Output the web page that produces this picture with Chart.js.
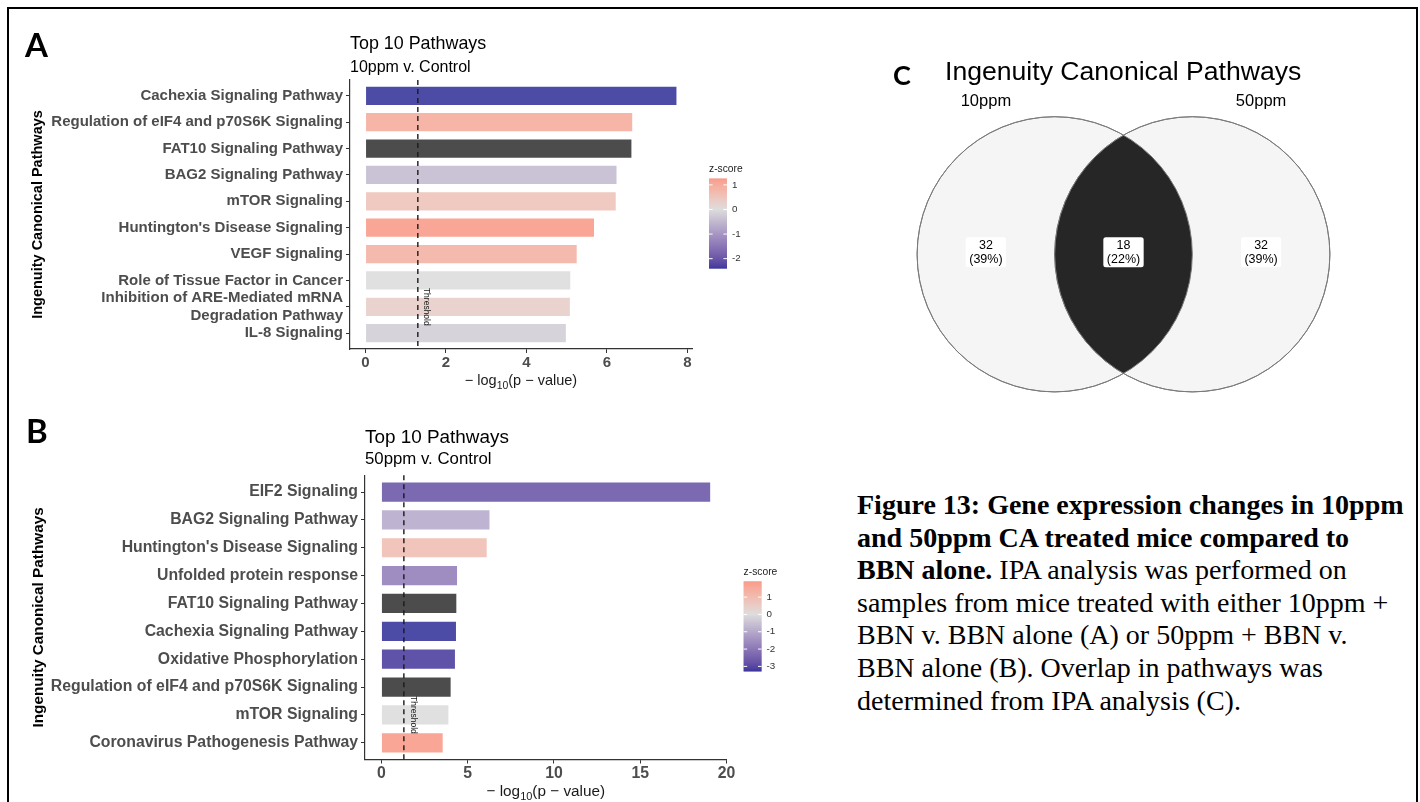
<!DOCTYPE html>
<html>
<head>
<meta charset="utf-8">
<script src="https://cdn.jsdelivr.net/npm/chart.js@4.4.1/dist/chart.umd.min.js"></script>
<style>
  html, body { margin: 0; padding: 0; background: #fff; }
  body { width: 1420px; height: 802px; position: relative; overflow: hidden; font-family: "Liberation Sans", Arial, sans-serif; }
  .frame { position: absolute; left: 7px; top: 7px; width: 1411px; height: 900px; border: 2px solid #000; box-sizing: border-box; }
  canvas { position: absolute; }
  .letter { position: absolute; font-family: Lato, "Open Sans", sans-serif; font-weight: 700; color: #000; line-height: 1; white-space: nowrap; }
  .vtitle { position: absolute; left: 945px; top: 58px; font-size: 26.6px; line-height: 1; color: #000; white-space: nowrap; }
  .caption { position: absolute; left: 857px; top: 489px; font-family: "Liberation Serif", "Times New Roman", serif; font-size: 28px; line-height: 32.6px; color: #000; white-space: nowrap; }
</style>
</head>
<body>
<div class="frame"></div>
<canvas id="chartA" width="830" height="400" style="left:0;top:0;"></canvas>
<canvas id="chartB" width="830" height="402" style="left:0;top:400px;"></canvas>
<canvas id="venn" width="480" height="370" style="left:880px;top:40px;"></canvas>
<div class="letter" style="left:25px;top:28px;font-size:33px;">A</div>
<div class="letter" style="left:26px;top:414px;font-size:33px;">B</div>
<div class="letter" style="left:893px;top:61px;font-size:27px;">C</div>
<div class="vtitle">Ingenuity Canonical Pathways</div>
<div class="caption"><b>Figure 13: Gene expression changes in 10ppm<br>and 50ppm CA treated mice compared to<br>BBN alone.</b> IPA analysis was performed on<br>samples from mice treated with either 10ppm +<br>BBN v. BBN alone (A) or 50ppm + BBN v.<br>BBN alone (B). Overlap in pathways was<br>determined from IPA analysis (C).</div>

<script>
// ---- data: 10ppm v. Control ----
const pathwaysA = [
  'Cachexia Signaling Pathway',
  'Regulation of eIF4 and p70S6K Signaling',
  'FAT10 Signaling Pathway',
  'BAG2 Signaling Pathway',
  'mTOR Signaling',
  "Huntington's Disease Signaling",
  'VEGF Signaling',
  'Role of Tissue Factor in Cancer',
  ['Inhibition of ARE-Mediated mRNA', 'Degradation Pathway'],
  'IL-8 Signaling'
];
const logPA = [7.73, 6.63, 6.61, 6.24, 6.22, 5.68, 5.25, 5.09, 5.08, 4.98];
const zScoreA = [-2.40, 0.95, null, -0.46, 0.52, 1.26, 0.85, 0, 0.30, -0.20];
const xTicksA = [0, 2, 4, 6, 8];
const zTicksA = [1, 0, -1, -2];

// ---- data: 50ppm v. Control ----
const pathwaysB = [
  'EIF2 Signaling',
  'BAG2 Signaling Pathway',
  "Huntington's Disease Signaling",
  'Unfolded protein response',
  'FAT10 Signaling Pathway',
  'Cachexia Signaling Pathway',
  'Oxidative Phosphorylation',
  'Regulation of eIF4 and p70S6K Signaling',
  'mTOR Signaling',
  'Coronavirus Pathogenesis Pathway'
];
const logPB = [19.05, 6.26, 6.10, 4.38, 4.34, 4.32, 4.26, 4.01, 3.88, 3.55];
const zScoreB = [-2.69, -0.97, 0.92, -1.83, null, -3.29, -3.15, null, 0, 1.91];
const xTicksB = [0, 5, 10, 15, 20];
const zTicksB = [1, 0, -1, -2, -3];

// significance cut-off, -log10(0.05)
const thresholdLogP = 1.3;

// ---- Venn: pathways shared between the two doses ----
const vennSets = ['10ppm', '50ppm'];
const vennCounts = [32, 18, 32]; // 10ppm only, both, 50ppm only

Chart.defaults.font.family = '"Liberation Sans", Arial, sans-serif';

// ---- colour scale (navy - lightgrey - salmon, interpolated in CIELAB) ----
function hexToRgb(h) { return [1, 3, 5].map(i => parseInt(h.slice(i, i + 2), 16)); }
function toLin(c) { c /= 255; return c <= 0.04045 ? c / 12.92 : Math.pow((c + 0.055) / 1.055, 2.4); }
function fromLin(v) { v = v <= 0.0031308 ? 12.92 * v : 1.055 * Math.pow(v, 1 / 2.4) - 0.055; return Math.round(Math.min(1, Math.max(0, v)) * 255); }
const WX = 0.95047, WZ = 1.08883;
function fLab(t) { return t > 0.008856 ? Math.cbrt(t) : 7.787 * t + 16 / 116; }
function fInv(t) { const t3 = t * t * t; return t3 > 0.008856 ? t3 : (t - 16 / 116) / 7.787; }
function rgbToLab(rgb) {
  const [r, g, b] = rgb.map(toLin);
  const X = (0.4124 * r + 0.3576 * g + 0.1805 * b) / WX;
  const Y = 0.2126 * r + 0.7152 * g + 0.0722 * b;
  const Z = (0.0193 * r + 0.1192 * g + 0.9505 * b) / WZ;
  const fx = fLab(X), fy = fLab(Y), fz = fLab(Z);
  return [116 * fy - 16, 500 * (fx - fy), 200 * (fy - fz)];
}
function labToRgb([L, a, b]) {
  const fy = (L + 16) / 116, fx = fy + a / 500, fz = fy - b / 200;
  const X = fInv(fx) * WX, Y = fInv(fy), Z = fInv(fz) * WZ;
  return [
    fromLin(3.2406 * X - 1.5372 * Y - 0.4986 * Z),
    fromLin(-0.9689 * X + 1.8758 * Y + 0.0415 * Z),
    fromLin(0.0557 * X - 0.2040 * Y + 1.0570 * Z)
  ];
}
const LAB_LOW = rgbToLab(hexToRgb('#000080'));
const LAB_MID = rgbToLab(hexToRgb('#D3D3D3'));
const LAB_HIGH = rgbToLab(hexToRgb('#F8806A'));
function zColor(z, zmin, zmax) {
  const s = z < 0 ? Math.min(1, z / zmin) : Math.min(1, z / zmax);
  const end = z < 0 ? LAB_LOW : LAB_HIGH;
  return labToRgb(LAB_MID.map((m, i) => m + (end[i] - m) * s));
}
const rgba = (c, a) => `rgba(${c[0]},${c[1]},${c[2]},${a})`;

const FONT = s => `${s}px "Liberation Sans", Arial, sans-serif`;

// -log10(p-value) axis title with a subscript
function drawLogTitle(ctx, cx, cy, size) {
  const p1 = '\u2212 log', p2 = '10', p3 = '(p \u2212 value)';
  const sub = size * 0.72;
  ctx.font = FONT(size);
  const w1 = ctx.measureText(p1).width, w3 = ctx.measureText(p3).width;
  ctx.font = FONT(sub);
  const w2 = ctx.measureText(p2).width;
  let x = cx - (w1 + w2 + w3) / 2;
  const base = cy + size * 0.36;
  ctx.fillStyle = '#1a1a1a';
  ctx.textAlign = 'left';
  ctx.textBaseline = 'alphabetic';
  ctx.font = FONT(size); ctx.fillText(p1, x, base); x += w1;
  ctx.font = FONT(sub); ctx.fillText(p2, x, base + size * 0.28); x += w2;
  ctx.font = FONT(size); ctx.fillText(p3, x, base);
}

function drawColorbar(ctx, left, top, w, h, zmin, zmax, ticks, fs) {
  for (let i = 0; i < h; i++) {
    const z = zmax - (i + 0.5) / h * (zmax - zmin);
    ctx.fillStyle = rgba(zColor(z, zmin, zmax), 1);
    ctx.fillRect(left, top + i, w, 1.05);
  }
  ctx.strokeStyle = '#ffffff';
  ctx.lineWidth = 1;
  ctx.fillStyle = '#333';
  ctx.font = FONT(fs);
  ctx.textAlign = 'left';
  ctx.textBaseline = 'middle';
  ticks.forEach(t => {
    const y = top + (zmax - t) / (zmax - zmin) * h;
    ctx.beginPath();
    ctx.moveTo(left, y); ctx.lineTo(left + w * 0.2, y);
    ctx.moveTo(left + w * 0.8, y); ctx.lineTo(left + w, y);
    ctx.stroke();
    ctx.fillText(String(t), left + w + 5, y);
  });
  ctx.fillStyle = '#1a1a1a';
  ctx.font = FONT(fs * 1.05);
  ctx.fillText('z-score', left, top - 9);
}

// titles, threshold line, axis title and colour bar of a pathway panel
const panelDecor = {
  id: 'panelDecor',
  afterDatasetsDraw(chart, args, o) {
    const { ctx, chartArea: a } = chart;
    const x = chart.scales.x, y = chart.scales.y;
    const tx = x.getPixelForValue(o.threshold);
    ctx.save();
    ctx.strokeStyle = '#1a1a1a';
    ctx.lineWidth = 1.4;
    ctx.setLineDash([5, 4]);
    ctx.beginPath();
    ctx.moveTo(tx, a.top); ctx.lineTo(tx, a.bottom);
    ctx.stroke();
    ctx.setLineDash([]);
    ctx.translate(tx + 9, y.getPixelForValue(o.labelAt));
    ctx.rotate(Math.PI / 2);
    ctx.font = FONT(8.5);
    ctx.fillStyle = '#1a1a1a';
    ctx.textAlign = 'center';
    ctx.textBaseline = 'middle';
    ctx.fillText('Threshold', 0, 0);
    ctx.restore();
  },
  afterDraw(chart, args, o) {
    const { ctx, chartArea: a } = chart;
    ctx.save();
    ctx.fillStyle = '#000';
    ctx.textAlign = 'left';
    ctx.textBaseline = 'alphabetic';
    ctx.font = FONT(o.titleSize);
    ctx.fillText(o.title, a.left, a.top - o.titleDy);
    ctx.font = FONT(o.subSize);
    ctx.fillText(o.subtitle, a.left, a.top - o.subDy);
    drawLogTitle(ctx, (a.left + a.right) / 2, a.bottom + 31, o.xTitleSize);
    const cy = (a.top + a.bottom) / 2;
    drawColorbar(ctx, a.right + 17, cy - 36, 18, 90, o.zmin, o.zmax, o.zTicks, 9.8);
    ctx.restore();
  }
};

function pathwayChart(id, g, labels, values, zs, xTicks, zTicks, text) {
  const known = zs.filter(v => v !== null);
  const zmin = Math.min(...known), zmax = Math.max(...known);
  const vmax = Math.max(...values);
  const colors = zs.map(z => z === null ? 'rgba(0,0,0,0.7)' : rgba(zColor(z, zmin, zmax), 0.7));
  const axisLine = { display: true, color: '#333', width: 1.2 };
  const tickGrid = { offset: false, drawOnChartArea: false, drawTicks: true, tickLength: 4, tickColor: '#333', tickWidth: 1 };
  return new Chart(document.getElementById(id), {
    type: 'bar',
    data: {
      datasets: [{
        data: values.map((v, i) => ({ x: v, y: i })),
        backgroundColor: colors,
        borderWidth: 0,
        barPercentage: 0.69,
        categoryPercentage: 1
      }]
    },
    options: {
      indexAxis: 'y',
      responsive: false,
      animation: false,
      devicePixelRatio: 1,
      events: [],
      layout: { padding: { left: g.padLeft, top: g.top, right: g.W - g.right, bottom: g.H - g.bottom - g.xH } },
      plugins: {
        legend: { display: false },
        tooltip: { enabled: false },
        panelDecor: {
          title: text.title, subtitle: text.subtitle,
          titleSize: g.titleSize, subSize: g.subSize, titleDy: g.titleDy, subDy: g.subDy,
          xTitleSize: g.axisTitle, threshold: thresholdLogP, labelAt: 8,
          zmin, zmax, zTicks
        }
      },
      scales: {
        x: {
          type: 'linear',
          min: -0.05 * vmax,
          max: 1.05 * vmax,
          afterBuildTicks: s => { s.ticks = xTicks.map(v => ({ value: v })); },
          afterFit: s => { s.height = g.xH; },
          ticks: { font: { size: g.tick, weight: 'bold' }, color: '#4d4d4d', padding: 1, autoSkip: false, maxRotation: 0, callback: v => String(v) },
          grid: tickGrid,
          border: axisLine
        },
        y: {
          type: 'linear',
          offset: false,
          reverse: true,
          min: -0.6,
          max: labels.length - 1 + 0.6,
          afterBuildTicks: s => { s.ticks = labels.map((_, i) => ({ value: i })); },
          afterFit: s => { s.width = g.left - g.padLeft; },
          ticks: { font: { size: g.tick, weight: 'bold', lineHeight: 1.15 }, color: '#4d4d4d', padding: 3, autoSkip: false, callback: v => labels[v] },
          grid: tickGrid,
          border: axisLine,
          title: { display: true, text: 'Ingenuity Canonical Pathways', color: '#000', font: { size: g.axisTitle, weight: 'bold' }, padding: { top: 4, bottom: 0 } }
        }
      }
    },
    plugins: [panelDecor]
  });
}

pathwayChart('chartA',
  { W: 830, H: 400, left: 350, right: 692, top: 80, bottom: 349, padLeft: 25.5, xH: 30,
    tick: 15, axisTitle: 14.5, titleSize: 17.9, subSize: 16, titleDy: 31, subDy: 8.5 },
  pathwaysA, logPA, zScoreA, xTicksA, zTicksA,
  { title: 'Top 10 Pathways', subtitle: '10ppm v. Control' });

pathwayChart('chartB',
  { W: 830, H: 402, left: 365, right: 726.6, top: 75.3, bottom: 359.5, padLeft: 25.5, xH: 30,
    tick: 15.8, axisTitle: 15.3, titleSize: 18.9, subSize: 16.8, titleDy: 32, subDy: 11 },
  pathwaysB, logPB, zScoreB, xTicksB, zTicksB,
  { title: 'Top 10 Pathways', subtitle: '50ppm v. Control' });

// ---- Venn diagram ----
const VENN_UNIT = 137.6;          // circle radius in px
const VENN_CX = 243.5, VENN_CY = 214.3;
const VENN_SEP = 0.5;             // half distance between circle centres, in radii
const vennCentres = vennSets.map((_, i) => (i - (vennSets.length - 1) / 2) * 2 * VENN_SEP);
const vennTotal = vennCounts.reduce((s, v) => s + v, 0);

function roundRect(ctx, x, y, w, h, r) {
  ctx.beginPath();
  ctx.moveTo(x + r, y);
  ctx.arcTo(x + w, y, x + w, y + h, r);
  ctx.arcTo(x + w, y + h, x, y + h, r);
  ctx.arcTo(x, y + h, x, y, r);
  ctx.arcTo(x, y, x + w, y, r);
  ctx.closePath();
}

const vennDecor = {
  id: 'vennDecor',
  afterDatasetsDraw(chart) {
    const { ctx } = chart;
    const xs = chart.scales.x, ys = chart.scales.y;
    const r = xs.getPixelForValue(1) - xs.getPixelForValue(0);
    const cy = ys.getPixelForValue(0);
    const cxs = vennCentres.map(c => xs.getPixelForValue(c));
    ctx.save();
    // shared region
    ctx.beginPath(); ctx.arc(cxs[0], cy, r, 0, Math.PI * 2); ctx.clip();
    ctx.beginPath(); ctx.arc(cxs[1], cy, r, 0, Math.PI * 2);
    ctx.fillStyle = '#262626'; ctx.fill();
    ctx.restore();
    ctx.save();
    ctx.strokeStyle = '#7a7a7a'; ctx.lineWidth = 1;
    cxs.forEach(cx => { ctx.beginPath(); ctx.arc(cx, cy, r, 0, Math.PI * 2); ctx.stroke(); });
    // set names
    ctx.fillStyle = '#000';
    ctx.font = FONT(16.5);
    ctx.textAlign = 'center';
    ctx.textBaseline = 'middle';
    vennSets.forEach((name, i) => ctx.fillText(name, xs.getPixelForValue(vennCentres[i] * 2), ys.getPixelForValue(1.11)));
    // region counts
    const regionX = [vennCentres[0] * 2, 0, vennCentres[1] * 2];
    ctx.font = FONT(12.5);
    vennCounts.forEach((n, i) => {
      const pct = '(' + Math.round(n / vennTotal * 100) + '%)';
      const px = xs.getPixelForValue(regionX[i]), py = ys.getPixelForValue(0) - 2;
      const w = ctx.measureText(pct).width + 7, h = 30;
      ctx.fillStyle = '#fff';
      roundRect(ctx, px - w / 2, py - h / 2, w, h, 2.5);
      ctx.fill();
      ctx.fillStyle = '#000';
      ctx.fillText(String(n), px, py - 6.5);
      ctx.fillText(pct, px, py + 7);
    });
    ctx.restore();
  }
};

new Chart(document.getElementById('venn'), {
  type: 'scatter',
  data: {
    datasets: [{
      data: vennCentres.map(c => ({ x: c, y: 0 })),
      pointRadius: ctx => ctx.chart.scales.x.getPixelForValue(1) - ctx.chart.scales.x.getPixelForValue(0),
      pointBackgroundColor: '#f5f5f5',
      pointBorderColor: '#7a7a7a',
      pointBorderWidth: 1
    }]
  },
  options: {
    responsive: false,
    animation: false,
    devicePixelRatio: 1,
    events: [],
    layout: { padding: 0 },
    plugins: { legend: { display: false }, tooltip: { enabled: false } },
    scales: {
      x: { type: 'linear', display: false, min: -VENN_CX / VENN_UNIT, max: (480 - VENN_CX) / VENN_UNIT },
      y: { type: 'linear', display: false, min: -(370 - VENN_CY) / VENN_UNIT, max: VENN_CY / VENN_UNIT }
    }
  },
  plugins: [vennDecor]
});
</script>
</body>
</html>
